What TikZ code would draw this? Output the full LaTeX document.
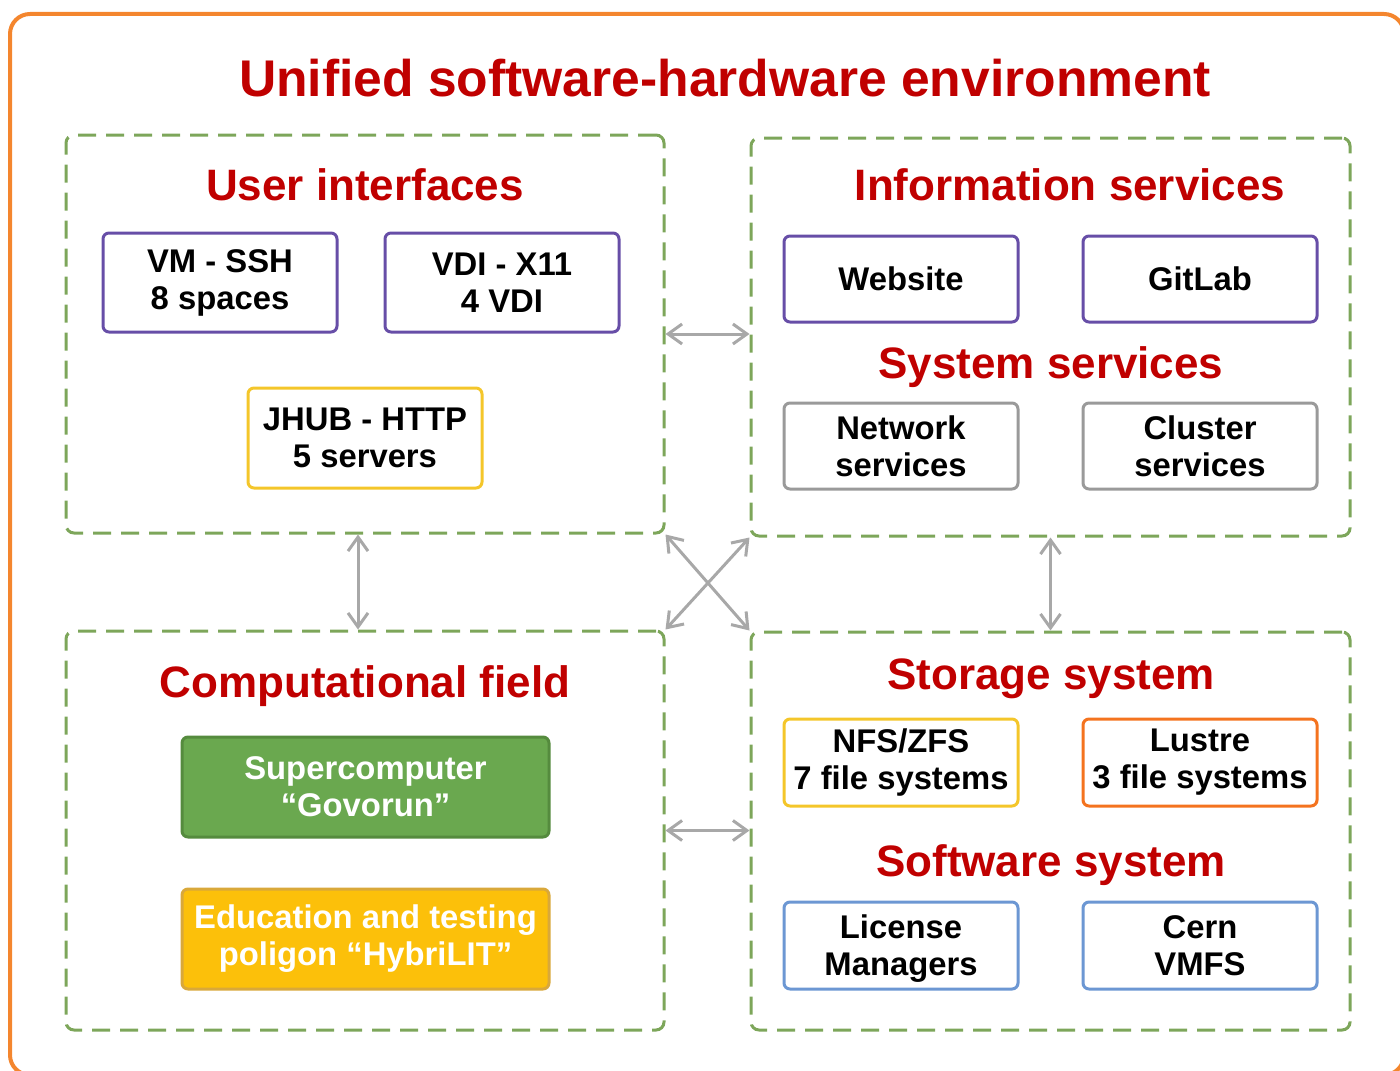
\documentclass[tikz,border=0pt]{standalone}
\usepackage{fontspec}
\setmainfont{Liberation Sans}
\usetikzlibrary{arrows.meta}
\definecolor{hred}{HTML}{C00000}
\definecolor{outerc}{HTML}{F4862E}
\definecolor{dgreen}{HTML}{7DA65A}
\definecolor{purp}{HTML}{674EA7}
\definecolor{yel}{HTML}{F4C62A}
\definecolor{grayb}{HTML}{9A9A9A}
\definecolor{gfill}{HTML}{6AA84F}
\definecolor{gdraw}{HTML}{558B3E}
\definecolor{ofill}{HTML}{FCC00A}
\definecolor{odraw}{HTML}{D9A83A}
\definecolor{lus}{HTML}{F4731F}
\definecolor{blu}{HTML}{6C97D3}
\definecolor{arr}{HTML}{A8A8A8}
\tikzset{
  group/.style={draw=dgreen, line width=1.5pt, dash pattern=on 9pt off 5pt, rounded corners=4pt, inner sep=0pt},
  item/.style={draw=#1, line width=1.5pt, rounded corners=3pt, align=center, inner sep=0pt,
    font=\bfseries\fontsize{16.4pt}{18.5pt}\selectfont},
  heading/.style={text=hred, anchor=base, font=\bfseries\fontsize{22pt}{24pt}\selectfont},
  link/.style={draw=arr, line width=1.5pt, {Straight Barb[length=7pt,width=10pt]}-{Straight Barb[length=7pt,width=10pt]}}
}
\begin{document}
\begin{tikzpicture}[x=0.5pt,y=-0.5pt]
\useasboundingbox (0,0) rectangle (1400,1070);
\clip (0,0) rectangle (1400,1070);
\draw[outerc, line width=2pt, rounded corners=10pt] (10,14) rectangle (1404,1075);
\node[text=hred, anchor=base, font=\bfseries\fontsize{25.8pt}{28pt}\selectfont] (title) at (725,97) {Unified software-hardware environment};

% groups
\node[group, minimum width=299pt, minimum height=199pt] (ui) at (365,334) {};
\node[group, minimum width=299.5pt, minimum height=199pt] (info) at (1050.5,337) {};
\node[group, minimum width=299pt, minimum height=199.5pt] (comp) at (365,830.5) {};
\node[group, minimum width=299.5pt, minimum height=199pt] (stor) at (1050.5,831) {};

% headings
\node[heading] (h1) at (365,200) {User interfaces};
\node[heading] (h2) at (1070,200) {Information services};
\node[heading] (h3) at (1051,378) {System services};
\node[heading] (h4) at (365,697) {Computational field};
\node[heading] (h5) at (1051,689) {Storage system};
\node[heading] (h6) at (1051,876) {Software system};

% user interfaces
\node[item=purp, minimum width=117pt, minimum height=49.5pt] (vm) at (220,282.5) {VM - SSH\\8 spaces};
\node[item=purp, minimum width=117pt, minimum height=49.5pt] (vdi) at (502,282.5) {VDI - X11\\4 VDI};
\node[item=yel, minimum width=117pt, minimum height=50pt] (jhub) at (365,438) {JHUB - HTTP\\5 servers};

% information / system services
\node[item=purp, minimum width=117pt, minimum height=43pt] (web) at (901,279) {Website};
\node[item=purp, minimum width=117pt, minimum height=43pt] (git) at (1200,279) {GitLab};
\node[item=grayb, minimum width=117pt, minimum height=43pt] (net) at (901,446) {Network\\services};
\node[item=grayb, minimum width=117pt, minimum height=43pt] (clu) at (1200,446) {Cluster\\services};

% computational field
\node[item=gdraw, fill=gfill, text=white, minimum width=183.5pt, minimum height=50pt] (sc) at (365.5,787) {Supercomputer\\``Govorun''};
\node[item=odraw, fill=ofill, text=white, minimum width=183.5pt, minimum height=50pt] (edu) at (365.5,939) {Education and testing\\poligon ``HybriLIT''};

% storage / software
\node[item=yel, minimum width=117pt, minimum height=43.5pt] (nfs) at (901,762.5) {NFS/ZFS\\7 file systems};
\node[item=lus, minimum width=117pt, minimum height=43.5pt] (lus) at (1200,762.5) {Lustre\\3 file systems};
\node[item=blu, minimum width=117pt, minimum height=43.5pt, text depth=0pt] (lic) at (901,945.5) {License\\Managers};
\node[item=blu, minimum width=117pt, minimum height=43.5pt] (cern) at (1200,945.5) {Cern\\VMFS};

% connectors
\draw[link] (ui.east) -- (ui.east -| info.west);
\draw[link] (comp.east) -- (comp.east -| stor.west);
\draw[link] ([xshift=-3.5pt]ui.south) -- ([xshift=-3.5pt]comp.north);
\draw[link] (info.south) -- (stor.north);
\draw[link] (ui.south east) -- (stor.north west);
\draw[link] (info.south west) -- (comp.north east);
\end{tikzpicture}
\end{document}
